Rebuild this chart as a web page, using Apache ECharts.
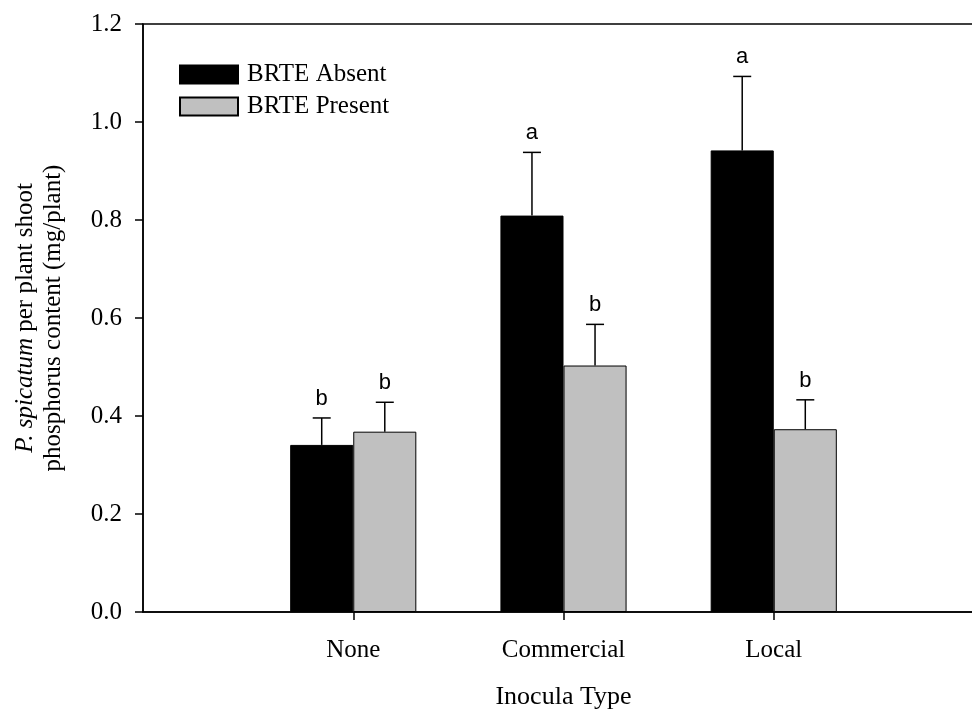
<!DOCTYPE html>
<html>
<head>
<meta charset="utf-8">
<script src="https://cdn.jsdelivr.net/npm/echarts@6/dist/echarts.min.js"></script>
<style>
  html, body { margin: 0; padding: 0; background: #fff; overflow: hidden; }
  /* plot frame runs a little past the right edge of the window, like the original */
  #chart { width: 995px; height: 715px; }
</style>
</head>
<body>
<div id="chart"></div>
<script>
// values
const categories = ['None', 'Commercial', 'Local'];
const absentMean = [0.341, 0.809, 0.942];
const absentErr = [0.055, 0.129, 0.151];
const absentLetters = ['b', 'a', 'a'];
const presentMean = [0.368, 0.503, 0.373];
const presentErr = [0.060, 0.084, 0.060];
const presentLetters = ['b', 'b', 'b'];
const yTicks = [0, 0.2, 0.4, 0.6, 0.8, 1.0, 1.2];

const serif = 'Liberation Serif';
const sans = 'Liberation Sans';

// one empty slot on each side so the groups sit on the inner ticks
const axisData = [''].concat(categories, ['']);
const pad = (arr) => [null].concat(arr, [null]);

const chart = echarts.init(document.getElementById('chart'));

// upper whisker + significance letter, shifted onto the left / right bar
const errRender = (side, letters) => (params, api) => {
  const idx = api.value(0);
  const mean = api.value(1);
  const top = mean + api.value(2);
  const half = api.size([1, 0])[0] * 0.15;
  const base = api.coord([idx, mean]);
  const x = base[0] + side * half;
  const yTop = api.coord([idx, top])[1];
  const ls = { stroke: '#000', lineWidth: 1.5 };
  return {
    type: 'group',
    children: [
      { type: 'line', shape: { x1: x, y1: base[1], x2: x, y2: yTop }, style: ls },
      { type: 'line', shape: { x1: x - 9, y1: yTop, x2: x + 9, y2: yTop }, style: ls },
      {
        type: 'text',
        style: {
          text: letters[params.dataIndex],
          x: x, y: yTop - 19,
          align: 'center', verticalAlign: 'middle',
          font: '22px ' + sans, fill: '#000'
        }
      }
    ]
  };
};

const option = {
  animation: false,
  backgroundColor: '#fff',
  grid: {
    left: 143, top: 24, width: 841, height: 588,
    show: true, borderColor: '#000', borderWidth: 1.5
  },
  legend: {
    orient: 'vertical',
    left: 174, top: 57,
    icon: 'rect',
    itemWidth: 58, itemHeight: 18, itemGap: 7,
    textStyle: { fontFamily: serif, fontSize: 25, color: '#000', lineHeight: 22, padding: [0, 0, 0, 4] },
    data: ['BRTE Absent', 'BRTE Present']
  },
  xAxis: {
    type: 'category',
    data: axisData,
    boundaryGap: false,
    name: 'Inocula Type',
    nameLocation: 'middle',
    nameGap: 72,
    nameTextStyle: { fontFamily: serif, fontSize: 26, color: '#000' },
    axisLine: { lineStyle: { color: '#000', width: 1.5 } },
    axisTick: {
      length: 8, inside: false,
      interval: (i) => i >= 1 && i <= categories.length,
      lineStyle: { color: '#000', width: 1.5 }
    },
    axisLabel: { fontFamily: serif, fontSize: 25, color: '#000', margin: 26, interval: 0 },
    splitLine: { show: false }
  },
  yAxis: {
    type: 'value',
    min: yTicks[0], max: yTicks[yTicks.length - 1], interval: 0.2,
    name: '{i|P. spicatum} per plant shoot\nphosphorus content (mg/plant)',
    nameLocation: 'middle',
    nameRotate: 90,
    nameGap: 76,
    nameTextStyle: {
      fontFamily: serif, fontSize: 25, color: '#000', lineHeight: 28, align: 'center',
      rich: { i: { fontFamily: serif, fontSize: 25, fontStyle: 'italic', color: '#000', lineHeight: 28 } }
    },
    axisLine: { show: true, lineStyle: { color: '#000', width: 1.5 } },
    axisTick: { show: true, length: 8, lineStyle: { color: '#000', width: 1.5 } },
    axisLabel: { fontFamily: serif, fontSize: 25, color: '#000', margin: 21, formatter: (v) => v.toFixed(1) },
    splitLine: { show: false }
  },
  series: [
    {
      name: 'BRTE Absent', type: 'bar', data: pad(absentMean),
      barWidth: '30%', barGap: '0%',
      itemStyle: { color: '#000', borderColor: '#000', borderWidth: 1 }
    },
    {
      name: 'BRTE Present', type: 'bar', data: pad(presentMean),
      barWidth: '30%', barGap: '0%',
      itemStyle: { color: '#c0c0c0', borderColor: '#000', borderWidth: 1 }
    },
    {
      type: 'custom', renderItem: errRender(-1, absentLetters), z: 5,
      data: absentMean.map((m, i) => [i + 1, m, absentErr[i]])
    },
    {
      type: 'custom', renderItem: errRender(1, presentLetters), z: 5,
      data: presentMean.map((m, i) => [i + 1, m, presentErr[i]])
    }
  ]
};

chart.setOption(option);
</script>
</body>
</html>
